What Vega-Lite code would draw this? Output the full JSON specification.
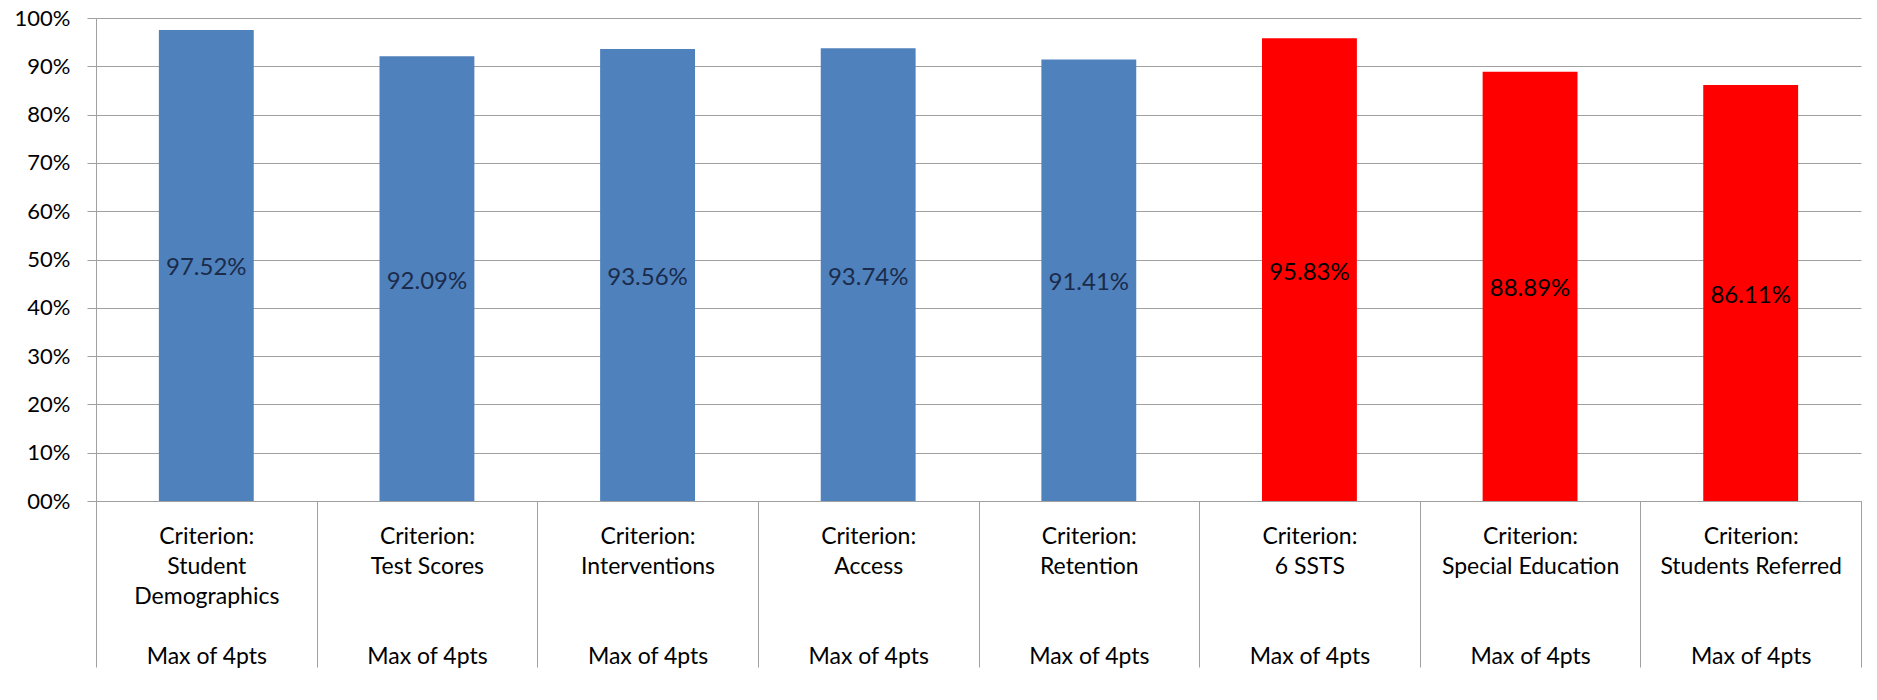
{
  "$schema": "https://vega.github.io/schema/vega-lite/v6.json",
  "width": 1765,
  "height": 483,
  "autosize": {"type": "none"},
  "padding": {"left": 96, "top": 18, "right": 16, "bottom": 199},
  "background": "white",
  "config": {"view": {"stroke": null}, "font": "Lato"},
  "data": {
    "values": [
      {"criterion": "Criterion:|Student|Demographics|\u200b|Max of 4pts", "score": 0.9752, "set": "A"},
      {"criterion": "Criterion:|Test Scores|\u200b|\u200b|Max of 4pts", "score": 0.9209, "set": "A"},
      {"criterion": "Criterion:|Interventions|\u200b|\u200b|Max of 4pts", "score": 0.9356, "set": "A"},
      {"criterion": "Criterion:|Access|\u200b|\u200b|Max of 4pts", "score": 0.9374, "set": "A"},
      {"criterion": "Criterion:|Retention|\u200b|\u200b|Max of 4pts", "score": 0.9141, "set": "A"},
      {"criterion": "Criterion:|6 SSTS|\u200b|\u200b|Max of 4pts", "score": 0.9583, "set": "B"},
      {"criterion": "Criterion:|Special Education|\u200b|\u200b|Max of 4pts", "score": 0.8889, "set": "B"},
      {"criterion": "Criterion:|Students Referred|\u200b|\u200b|Max of 4pts", "score": 0.8611, "set": "B"}
    ]
  },
  "transform": [{"calculate": "datum.score/2", "as": "mid"}],
  "encoding": {
    "x": {
      "field": "criterion",
      "type": "nominal",
      "sort": null,
      "scale": {"paddingInner": 0, "paddingOuter": 0},
      "axis": {
        "title": null,
        "labelExpr": "split(datum.label, '|')",
        "labelAngle": 0,
        "labelFont": "Lato",
        "labelFontSize": 23,
        "labelColor": "#000000",
        "labelLineHeight": 30,
        "labelPadding": -142,
        "labelLimit": 0,
        "labelOverlap": false,
        "tickBand": "extent",
        "tickSize": 166,
        "tickColor": "#a0a0a0",
        "domainColor": "#a0a0a0",
        "grid": false
      }
    }
  },
  "layer": [
    {
      "mark": {"type": "bar", "width": {"band": 0.43}},
      "encoding": {
        "y": {
          "field": "score",
          "type": "quantitative",
          "scale": {"domain": [0, 1], "nice": false},
          "axis": {
            "title": null,
            "values": [0, 0.1, 0.2, 0.3, 0.4, 0.5, 0.6, 0.7, 0.8, 0.9, 1],
            "labelExpr": "datum.value == 0 ? '00%' : format(datum.value, '.0%')",
            "labelFont": "Lato",
            "labelFontSize": 22,
            "labelColor": "#000000",
            "tickSize": 9,
            "labelPadding": 17,
            "gridColor": "#a0a0a0",
            "domainColor": "#a0a0a0",
            "tickColor": "#a0a0a0"
          }
        },
        "color": {
          "field": "set",
          "type": "nominal",
          "scale": {"domain": ["A", "B"], "range": ["#4f81bd", "#ff0000"]},
          "legend": null
        }
      }
    },
    {
      "mark": {"type": "text", "font": "Lato", "fontSize": 24, "baseline": "middle", "dy": 3},
      "encoding": {
        "y": {"field": "mid", "type": "quantitative"},
        "text": {"field": "score", "type": "quantitative", "format": ".2%"},
        "color": {
          "condition": {"test": "datum.set == 'B'", "value": "#000000"},
          "value": "#1b2b4b"
        }
      }
    }
  ]
}
